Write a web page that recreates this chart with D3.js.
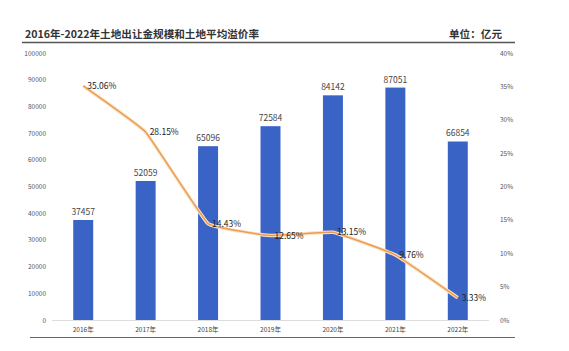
<!DOCTYPE html>
<html><head><meta charset="utf-8">
<script src="https://cdn.jsdelivr.net/npm/d3@7"></script>
<style>body{margin:0;background:#fff}svg{display:block}</style>
</head><body>
<svg id="c" width="569" height="351"></svg>
<script>
const years = ["2016年","2017年","2018年","2019年","2020年","2021年","2022年"];
const amounts = [37457, 52059, 65096, 72584, 84142, 87051, 66854];
const rates = [35.06, 28.15, 14.43, 12.65, 13.15, 9.76, 3.33];
const leftTicks = [0,10000,20000,30000,40000,50000,60000,70000,80000,90000,100000];
const rightTicks = [0,5,10,15,20,25,30,35,40];
const title = "2016年-2022年土地出让金规模和土地平均溢价率";
const unit = "单位：亿元";

const svg = d3.select("#c");
const font = "'Noto Sans CJK SC','Noto Sans',sans-serif";
const x = d3.scaleBand().domain(years).range([52, 489]).paddingInner(0.68).paddingOuter(0.34);
const yL = d3.scaleLinear().domain([0, 100000]).range([320, 53]);
const yR = d3.scaleLinear().domain([0, 40]).range([320, 53]);

// title
svg.append("text").attr("x", 25).attr("y", 38).attr("font-family", font).attr("font-weight", 700)
  .attr("font-size", 10.6).attr("fill", "#333").text(title);
svg.append("text").attr("x", 502).attr("y", 38).attr("text-anchor", "end").attr("font-family", font).attr("font-weight", 700)
  .attr("font-size", 10.6).attr("fill", "#333").text(unit);
svg.append("line").attr("x1", 22).attr("x2", 515).attr("y1", 42.5).attr("y2", 42.5).attr("stroke", "#555").attr("stroke-width", 1.5);
svg.append("line").attr("x1", 30).attr("x2", 515).attr("y1", 337.5).attr("y2", 337.5).attr("stroke", "#666").attr("stroke-width", 1.2);

// left axis
const axL = d3.axisLeft(yL).tickValues(leftTicks).tickSize(0).tickPadding(0).tickFormat(d3.format("d"));
const gL = svg.append("g").attr("transform", "translate(46,0)").call(axL);
gL.select(".domain").remove();
gL.selectAll("text").attr("font-family", font).attr("font-size", 6.5).attr("fill", "#555");

// right axis
const axR = d3.axisRight(yR).tickValues(rightTicks).tickSize(0).tickPadding(0).tickFormat(d => d + "%");
const gR = svg.append("g").attr("transform", "translate(500,0)").call(axR);
gR.select(".domain").remove();
gR.selectAll("text").attr("font-family", font).attr("font-size", 6.5).attr("fill", "#555");

// baseline
svg.append("line").attr("x1", 52).attr("x2", 489).attr("y1", 320.5).attr("y2", 320.5).attr("stroke", "#ddd").attr("stroke-width", 1);

// x axis
const axX = d3.axisBottom(x).tickSize(0).tickPadding(0);
const gX = svg.append("g").attr("transform", "translate(0,327)").call(axX);
gX.select(".domain").remove();
gX.selectAll("text").attr("font-family", font).attr("font-size", 6.5).attr("fill", "#444");

// bars
svg.selectAll("rect.bar").data(amounts).join("rect").attr("class", "bar")
  .attr("x", (d, i) => x(years[i])).attr("width", x.bandwidth())
  .attr("y", d => yL(d)).attr("height", d => yL(0) - yL(d)).attr("fill", "#3a63c6");

svg.selectAll("text.val").data(amounts).join("text").attr("class", "val")
  .attr("x", (d, i) => x(years[i]) + x.bandwidth() / 2).attr("y", d => yL(d) - 5)
  .attr("text-anchor", "middle").attr("font-family", font).attr("font-size", 8.5).attr("fill", "#444").text(d => d);

// line
const line = d3.line().x((d, i) => x(years[i]) + x.bandwidth() / 2).y(d => yR(d)).curve(d3.curveCardinal.tension(0.75));
svg.append("path").datum(rates).attr("d", line).attr("fill", "none").attr("stroke", "#fbe2c4").attr("stroke-width", 3.5);
svg.append("path").datum(rates).attr("d", line).attr("fill", "none").attr("stroke", "#ec9c52").attr("stroke-width", 1.5);

svg.selectAll("text.rate").data(rates).join("text").attr("class", "rate")
  .attr("x", (d, i) => x(years[i]) + x.bandwidth() / 2 + 4).attr("y", d => yR(d) + 3)
  .attr("font-family", font).attr("font-size", 8.5).attr("fill", "#222").text(d => d.toFixed(2) + "%");
</script>
</body></html>
